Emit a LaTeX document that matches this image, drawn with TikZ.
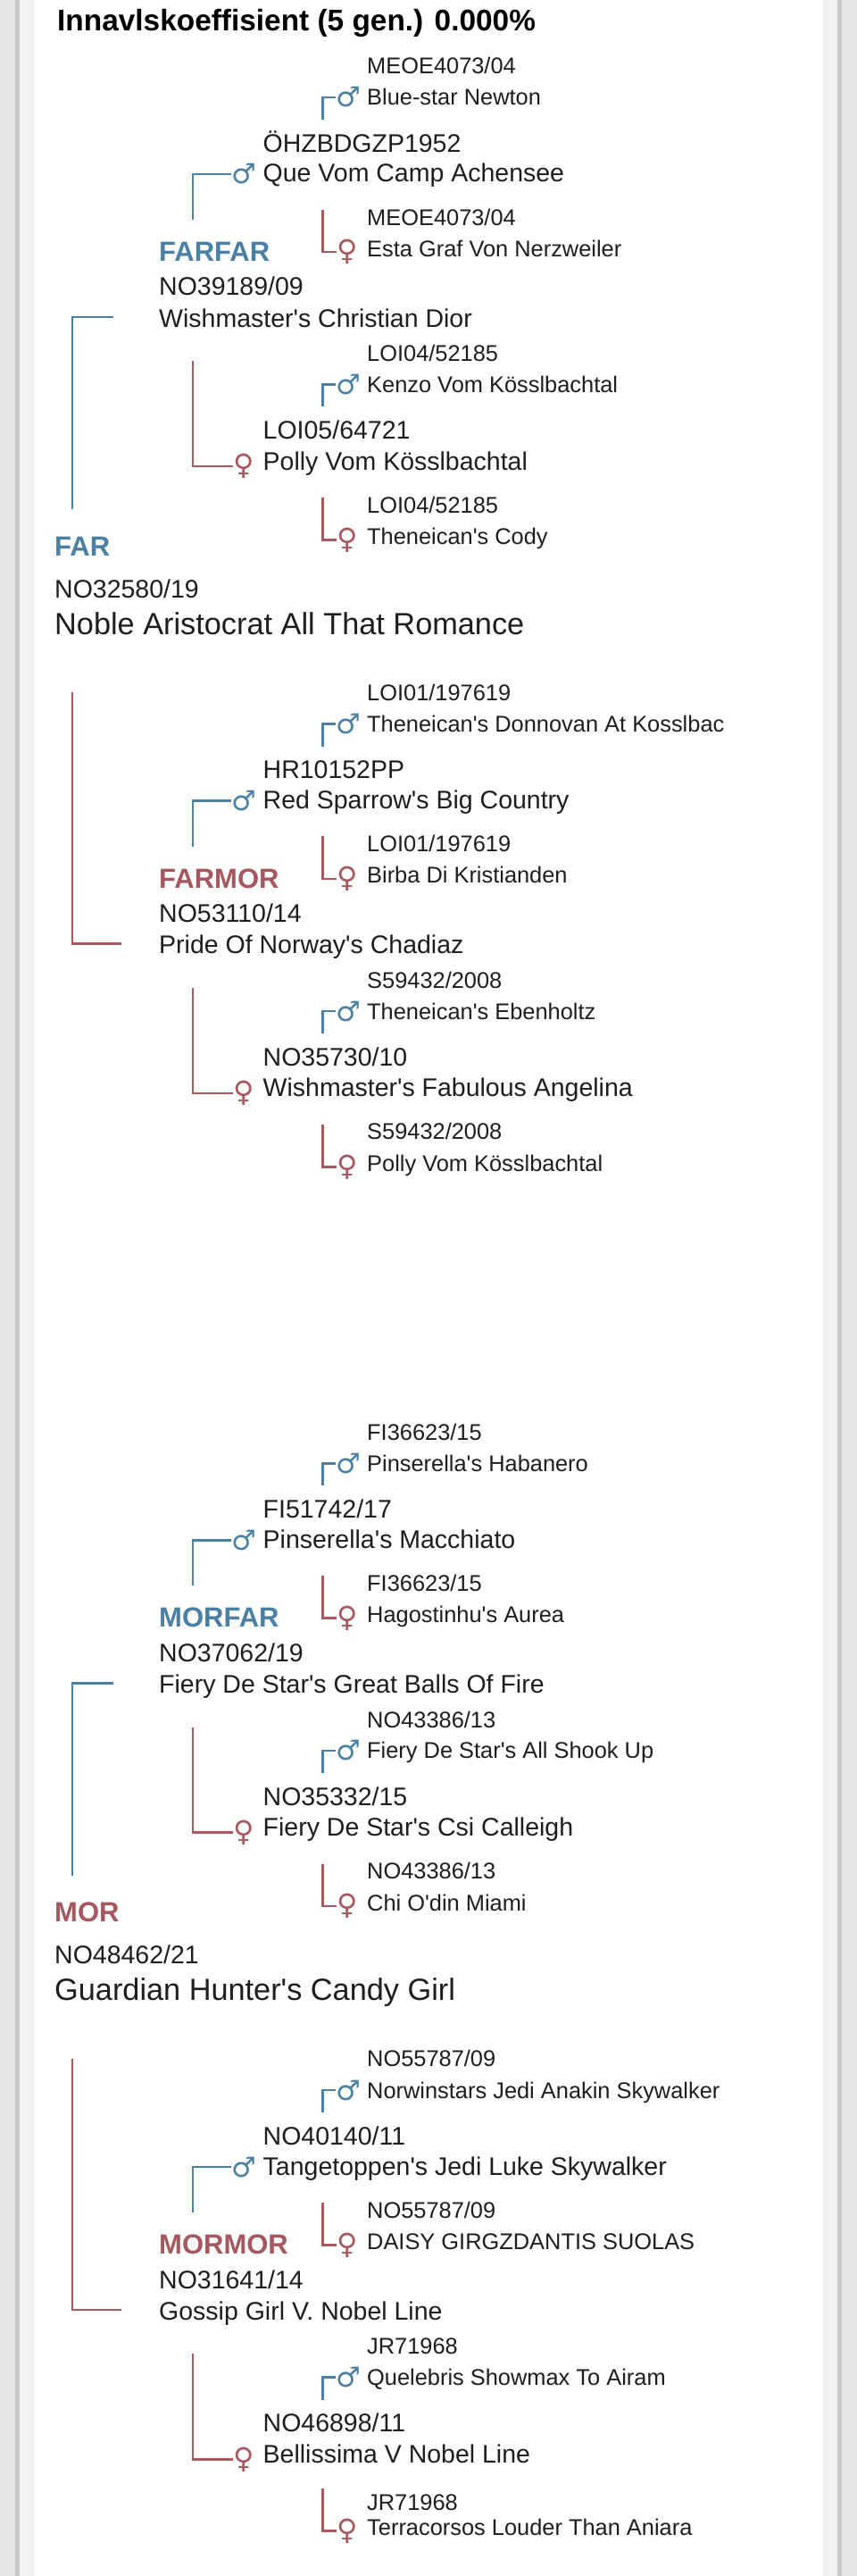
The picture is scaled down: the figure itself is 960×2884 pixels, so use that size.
\documentclass[tikz,border=0pt]{standalone}
\usepackage{fontspec}
\setmainfont[Ligatures=TeXOff]{Liberation Sans}
\newfontfamily\symfont{DejaVu Sans}
\definecolor{mblue}{RGB}{74,128,163}
\definecolor{fred}{RGB}{166,88,94}
\definecolor{txt}{RGB}{30,30,30}
\definecolor{bgout}{RGB}{228,228,228}
\definecolor{edgeline}{RGB}{202,202,202}
\definecolor{band}{RGB}{242,242,242}
\tikzset{
  tf/.style={anchor=base west, inner sep=0pt, text=txt, font=\fontsize{25.4}{30}\selectfont},
  tm/.style={anchor=base west, inner sep=0pt, text=txt, font=\fontsize{28.5}{34}\selectfont},
  tbig/.style={anchor=base west, inner sep=0pt, text=txt, font=\fontsize{34.3}{40}\selectfont},
  lab/.style={anchor=base west, inner sep=0pt, font=\bfseries\fontsize{31}{36}\selectfont},
  ttl/.style={anchor=base west, inner sep=0pt, text=black, font=\bfseries\fontsize{33.4}{40}\selectfont},
  msym/.style={anchor=center, inner sep=0pt, text=mblue, font=\symfont\fontsize{31}{36}\selectfont},
  fsym/.style={anchor=center, inner sep=0pt, text=fred, font=\symfont\fontsize{32}{36}\selectfont},
  bline/.style={draw=mblue, line width=2.6pt},
  rline/.style={draw=fred, line width=2.6pt},
}
% great-grandparents (level 4)
\newcommand\mfour[5]{%
  \node[tf] (#1r) at (411,#2) {#4};
  \node[tf] (#1n) at (411,#3) {#5};
  \node[msym] (#1s) at (390.5,#3-9) {♂};
  \coordinate (#1c) at (361.5,#3+16);
  \draw[bline] (#1c) |- (#1s.west);}
\newcommand\ffour[5]{%
  \node[tf] (#1r) at (411,#2) {#4};
  \node[tf] (#1n) at (411,#3) {#5};
  \node[fsym] (#1s) at (389,#3-5) {♀};
  \coordinate (#1c) at (361.5,#3-52.5);
  \draw[rline] (#1c) |- (#1s.west);}
% level 3
\newcommand\mthree[5]{%
  \node[tm] (#1r) at (294.5,#2) {#4};
  \node[tm] (#1n) at (294.5,#3) {#5};
  \node[msym] (#1s) at (273.5,#3-9) {♂};
  \coordinate (#1c) at (216,#3+42);
  \draw[bline] (#1c) |- (#1s.west);}
\newcommand\fthree[5]{%
  \node[tm] (#1r) at (294.5,#2) {#4};
  \node[tm] (#1n) at (294.5,#3) {#5};
  \node[fsym] (#1s) at (273,#3-4) {♀};
  \coordinate (#1c) at (216,#3-122);
  \draw[rline] (#1c) |- (#1s.west);}
% grandparents (level 2)
\newcommand\gtwo[6]{%
  \node[lab, text=#3] (#1l) at (178,#2+292.3) {#4};
  \node[tm] (#1r) at (178,#2+330.8) {#5};
  \node[tm] (#1n) at (178,#2+366) {#6};}
\begin{document}
\begin{tikzpicture}[x=1pt,y=-1pt]
\useasboundingbox (0,0) rectangle (960,2884);
% card background
\fill[bgout] (0,0) rectangle (960,2884);
\fill[edgeline] (17,0) rectangle (943,2884);
\fill[band] (22,0) rectangle (938,2884);
\fill[white] (39,0) rectangle (921,2884);

\node[ttl] (title) at (64,34.5) {Innavlskoeffisient (5 gen.) 0.000\%};

% ================= FAR =================
\node[lab, text=mblue] (farl) at (61,622) {FAR};
\node[tm] (farr) at (61,669.4) {NO32580/19};
\node[tbig] (farn) at (61,710.2) {Noble Aristocrat All That Romance};

% FARFAR block
\gtwo{ff}{0}{mblue}{FARFAR}{NO39189/09}{Wishmaster's Christian Dior}
\mfour{ffa}{82.6}{117.8}{MEOE4073/04}{Blue-star Newton}
\mthree{ffm}{170}{203.8}{ÖHZBDGZP1952}{Que Vom Camp Achensee}
\ffour{ffb}{252}{287}{MEOE4073/04}{Esta Graf Von Nerzweiler}
\mfour{ffc}{404.6}{439.3}{LOI04/52185}{Kenzo Vom Kösslbachtal}
\fthree{fff}{491.5}{526}{LOI05/64721}{Polly Vom Kösslbachtal}
\ffour{ffd}{574}{609.5}{LOI04/52185}{Theneican's Cody}

% FARMOR block
\gtwo{fm}{701.8}{fred}{FARMOR}{NO53110/14}{Pride Of Norway's Chadiaz}
\begin{scope}
\clip (0,0) rectangle (813,2884);
\mfour{fma}{784.4}{819.6}{LOI01/197619}{Theneican's Donnovan At Kosslbac}
\end{scope}
\mthree{fmm}{871.8}{905.6}{HR10152PP}{Red Sparrow's Big Country}
\ffour{fmb}{953.8}{988.8}{LOI01/197619}{Birba Di Kristianden}
\mfour{fmc}{1106.4}{1141.1}{S59432/2008}{Theneican's Ebenholtz}
\fthree{fmf}{1193.3}{1227.8}{NO35730/10}{Wishmaster's Fabulous Angelina}
\ffour{fmd}{1275.8}{1311.3}{S59432/2008}{Polly Vom Kösslbachtal}

% FAR -> FARFAR / FARMOR
\coordinate (farUp) at (81,570);
\coordinate (ffEnd) at (127,355);
\draw[bline] (farUp) |- (ffEnd);
\coordinate (farDn) at (81,775);
\coordinate (fmEnd) at (136,1056.5);
\draw[rline] (farDn) |- (fmEnd);

% ================= MOR =================
\node[lab, text=fred] (morl) at (61,2151.5) {MOR};
\node[tm] (morr) at (61,2198.9) {NO48462/21};
\node[tbig] (morn) at (61,2239.7) {Guardian Hunter's Candy Girl};

% MORFAR block
\gtwo{mf}{1529.5}{mblue}{MORFAR}{NO37062/19}{Fiery De Star's Great Balls Of Fire}
\mfour{mfa}{1612.1}{1647.3}{FI36623/15}{Pinserella's Habanero}
\mthree{mfm}{1699.5}{1733.3}{FI51742/17}{Pinserella's Macchiato}
\ffour{mfb}{1781.5}{1816.5}{FI36623/15}{Hagostinhu's Aurea}
\mfour{mfc}{1934.1}{1968.8}{NO43386/13}{Fiery De Star's All Shook Up}
\fthree{mff}{2021}{2055.5}{NO35332/15}{Fiery De Star's Csi Calleigh}
\ffour{mfd}{2103.5}{2139}{NO43386/13}{Chi O'din Miami}

% MORMOR block
\gtwo{mm}{2231.3}{fred}{MORMOR}{NO31641/14}{Gossip Girl V. Nobel Line}
\mfour{mma}{2313.9}{2349.1}{NO55787/09}{Norwinstars Jedi Anakin Skywalker}
\mthree{mmm}{2401.3}{2435.1}{NO40140/11}{Tangetoppen's Jedi Luke Skywalker}
\ffour{mmb}{2483.3}{2518.3}{NO55787/09}{DAISY GIRGZDANTIS SUOLAS}
\mfour{mmc}{2635.9}{2670.6}{JR71968}{Quelebris Showmax To Airam}
\fthree{mmf}{2722.8}{2757.3}{NO46898/11}{Bellissima V Nobel Line}
\ffour{mmd}{2810.7}{2838.3}{JR71968}{Terracorsos Louder Than Aniara}

% MOR -> MORFAR / MORMOR
\coordinate (morUp) at (81,2099.5);
\coordinate (mfEnd) at (127,1884.5);
\draw[bline] (morUp) |- (mfEnd);
\coordinate (morDn) at (81,2304.5);
\coordinate (mmEnd) at (136,2586);
\draw[rline] (morDn) |- (mmEnd);
\end{tikzpicture}
\end{document}
